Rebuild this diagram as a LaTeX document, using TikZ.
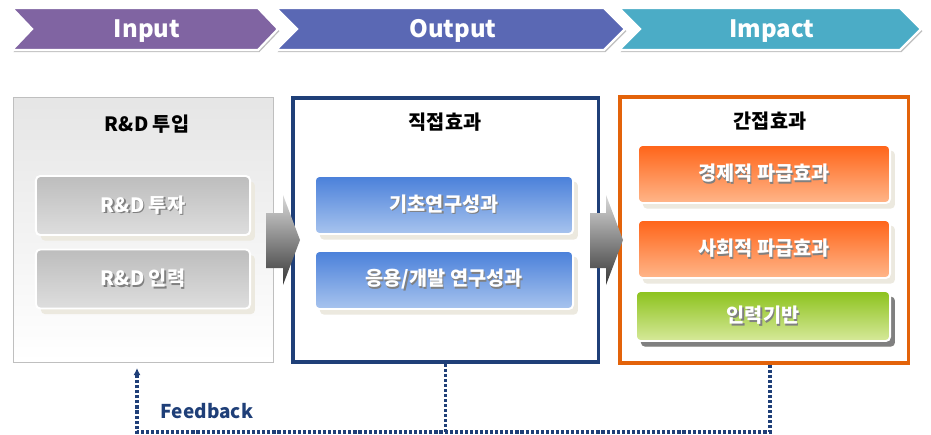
\documentclass[tikz,border=0pt]{standalone}
\usepackage{fontspec}
\setmainfont{Noto Sans CJK KR}
\usetikzlibrary{shadows,arrows.meta}
\definecolor{inputpurple}{HTML}{8064A2}
\definecolor{outputblue}{HTML}{5A68B4}
\definecolor{impactcyan}{HTML}{4BACC6}
\definecolor{navyline}{HTML}{1F3F78}
\definecolor{orangeline}{HTML}{E3630A}
\definecolor{shadowbeige}{HTML}{ECE9DF}
\definecolor{bluetop}{HTML}{4A80DA}
\definecolor{bluebottom}{HTML}{A8C4EE}
\definecolor{orangetop}{HTML}{FF6418}
\definecolor{orangebottom}{HTML}{FFB68A}
\definecolor{greentop}{HTML}{8CC21C}
\definecolor{greenbottom}{HTML}{D6E99A}
\newcommand{\shtext}[1]{\makebox[0pt][l]{\hspace{0.9pt}\raisebox{-0.9pt}{\color{black!50}#1}}{\color{white}#1}}
\tikzset{
  chevron/.style={draw=white,line width=1.6pt,drop shadow={shadow xshift=1pt,shadow yshift=-1.5pt,fill=black!25,opacity=1}},
  chevlabel/.style={text=white,font=\fontsize{17}{20}\selectfont\bfseries},
  title/.style={font=\fontsize{14}{16}\selectfont\bfseries,text=black},
  item/.style={rounded corners=3pt,draw=white,line width=1.4pt,font=\fontsize{14}{16}\selectfont\bfseries,
    drop shadow={shadow xshift=3.5pt,shadow yshift=-4pt,fill=shadowbeige,opacity=1}},
  grayitem/.style={item,top color=black!26,bottom color=black!13,minimum width=5.35cm,minimum height=1.475cm},
  blueitem/.style={item,top color=bluetop,bottom color=bluebottom,minimum width=6.45cm,minimum height=1.45cm},
  orangeitem/.style={item,top color=orangetop,bottom color=orangebottom,minimum width=6.3cm,minimum height=1.45cm},
  bigarrow/.style={top color=black!15,bottom color=black!78},
  feedback/.style={navyline,line width=2.2pt,dash pattern=on 2.2pt off 1.4pt}
}
\begin{document}
\begin{tikzpicture}[x=0.025cm,y=-0.025cm]
  \useasboundingbox (0,0) rectangle (931,434);
  \fill[chevron,fill=inputpurple] (12,8) -- (258,8) -- (278,29) -- (258,50) -- (12,50) -- (32,29) -- cycle;
  \fill[chevron,fill=outputblue] (276,8) -- (604,8) -- (625,29) -- (604,50) -- (276,50) -- (297,29) -- cycle;
  \fill[chevron,fill=impactcyan] (619,8) -- (900,8) -- (921,29) -- (900,50) -- (619,50) -- (640,29) -- cycle;
  \node[chevlabel] (input) at (147,31) {Input};
  \node[chevlabel] (output) at (453,31) {Output};
  \node[chevlabel] (impact) at (772,31) {Impact};

  \node[draw=black!25,line width=0.7pt,top color=black!10,bottom color=white,minimum width=6.475cm,minimum height=6.6cm] (invest) at (143.5,230) {};
  \node[draw=navyline,line width=2.2pt,fill=white,minimum width=7.625cm,minimum height=6.6cm] (direct) at (445.5,230) {};
  \node[draw=orangeline,line width=2.2pt,fill=white,minimum width=7.2cm,minimum height=6.65cm] (indirect) at (764,230) {};

  \node[title] (investtitle) at (147,124) {R\&D 투입};
  \node[title] (directtitle) at (445,122) {직접효과};
  \node[title] (indirecttitle) at (770,121) {간접효과};

  \node[grayitem] (money) at (143,205.5) {\shtext{R\&D 투자}};
  \node[grayitem] (people) at (143,279) {\shtext{R\&D 인력}};
  \node[blueitem] (basic) at (444,205) {\shtext{기초연구성과}};
  \node[blueitem] (applied) at (444,280) {\shtext{응용/개발 연구성과}};
  \node[orangeitem] (economic) at (764,174) {\shtext{경제적 파급효과}};
  \node[orangeitem] (social) at (764,249) {\shtext{사회적 파급효과}};
  \node[item,drop shadow={shadow xshift=3.5pt,shadow yshift=-4pt,fill=black!50,opacity=1},top color=greentop,bottom color=greenbottom,minimum width=6.35cm,minimum height=1.25cm] (workforce) at (763,316) {\shtext{인력기반}};

  \shade[bigarrow] (266,213) -- (283,213) -- (283,195) -- (300,240) -- (283,285) -- (283,268) -- (266,268) -- cycle;
  \shade[bigarrow] (590,213) -- (606,213) -- (606,195) -- (623,240) -- (606,285) -- (606,268) -- (590,268) -- cycle;

  \coordinate (fbcorner) at (137,432);
  \coordinate (fbtip) at (137,368);
  \draw[feedback,-{Latex[length=5pt,width=5pt]}] (indirecttitle |- indirect.south) |- (fbcorner) -- (fbtip);
  \draw[feedback] (direct.south) -- (direct.south |- fbcorner);
  \node[font=\fontsize{13.5}{16}\selectfont\bfseries,text=navyline] (fblabel) at (207,411) {Feedback};
\end{tikzpicture}
\end{document}
